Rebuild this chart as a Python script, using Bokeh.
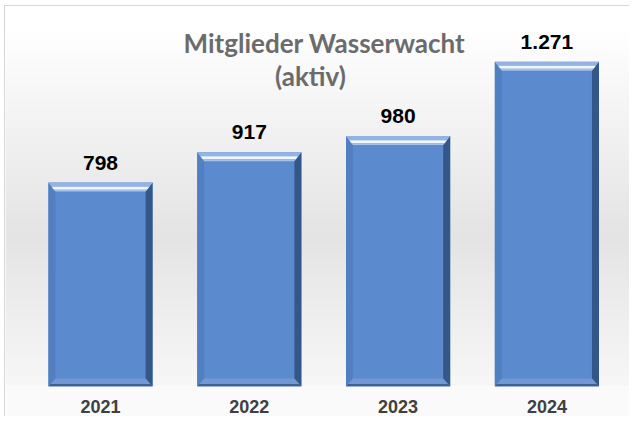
import numpy as np
from bokeh.plotting import figure
from bokeh.models import Range1d, FixedTicker, Label, ColumnDataSource
from bokeh.core.properties import value
from bokeh.embed import file_html
from bokeh.resources import INLINE

# ---- data ----
years = ["2021", "2022", "2023", "2024"]
members = [798, 917, 980, 1271]
member_labels = ["798", "917", "980", "1.271"]
title_line1 = "Mitglieder Wasserwacht"
title_line2 = "(aktiv)"

# ---- layout constants (pixels) ----
W, H = 625, 411
BOTTOM = 31
OFF_X, OFF_Y = 5, 6          # canvas origin inside the picture (margin + border)
frame_h = H - BOTTOM
px_per_cat = 148.8
px_per_unit = 0.2555

x_start = -(100 - OFF_X) / px_per_cat
x_end = x_start + W / px_per_cat
y_start = 0.0
y_end = frame_h / px_per_unit

p = figure(width=W, height=H, output_backend="svg", toolbar_location=None,
           x_range=Range1d(x_start, x_end), y_range=Range1d(y_start, y_end),
           y_axis_type=None, min_border_left=0, min_border_right=0,
           min_border_top=0, min_border_bottom=BOTTOM)
p.grid.visible = False
p.outline_line_color = None
p.border_fill_color = "#fafafa"
p.background_fill_color = "#ffffff"
p.styles = {"margin-left": "4px", "margin-top": "5px",
            "border-left": "1px solid #d6d6d6", "border-top": "1px solid #d6d6d6"}

# ---- background gradient (vertical) ----
rows = 200
t = np.linspace(0, 1, rows)  # 0 = bottom of frame, 1 = top
pic_y = OFF_Y + (1 - t) * frame_h
def shade(y):
    if y < 30:
        return 255.0
    if y < 235:
        return 255 - (255 - 228) * (y - 30) / 205
    return 228 + (251 - 228) * (y - 235) / (417 - 235)
g = np.array([shade(y) for y in pic_y]).astype(np.uint32)
img = np.zeros((rows, 1), dtype=np.uint32)
img[:, 0] = (255 << 24) | (g << 16) | (g << 8) | g
p.image_rgba(image=[img], x=x_start, y=y_start, dw=x_end - x_start, dh=y_end - y_start)

# ---- bars with bevel ----
xs = list(range(len(years)))
bw = 0.70
dx = 7.0 / px_per_cat
dyt = 9.0 / px_per_unit
dyb = 8.0 / px_per_unit

x0 = [x - bw / 2 for x in xs]
x1 = [x + bw / 2 for x in xs]

p.quad(left=x0, right=x1, bottom=0, top=members, fill_color="#5b8bce", line_color=None)

def patches_for(fn, color):
    pxs, pys = [], []
    for a, b, v in zip(x0, x1, members):
        px_, py_ = fn(a, b, v)
        pxs.append(px_); pys.append(py_)
    p.patches(xs=pxs, ys=pys, fill_color=color, line_color=None)

# right (dark)
patches_for(lambda a, b, v: ([b, b, b - dx, b - dx], [v, 0, dyb, v - dyt]), "#34578a")
# left
patches_for(lambda a, b, v: ([a, a + dx, a + dx, a], [v, v - dyt, dyb, 0]), "#5080c2")
# bottom
patches_for(lambda a, b, v: ([a, b, b - dx, a + dx], [0, 0, dyb, dyb]), "#7198d2")
patches_for(lambda a, b, v: ([a, b, b - dx * 0.3, a + dx * 0.3], [0, 0, dyb * 0.3, dyb * 0.3]), "#3f6094")
# top bevel bands
def top_band(f0, f1):
    def fn(a, b, v):
        return ([a + dx * f0, b - dx * f0, b - dx * f1, a + dx * f1],
                [v - dyt * f0, v - dyt * f0, v - dyt * f1, v - dyt * f1])
    return fn
patches_for(top_band(0.0, 0.45), "#93b3e3")
patches_for(top_band(0.45, 0.78), "#f1f6fd")
patches_for(top_band(0.78, 1.0), "#a6c1ea")

# ---- value labels ----
src = ColumnDataSource(dict(x=xs, y=members, t=member_labels))
p.text(x="x", y="y", text="t", source=src, text_align="center", text_baseline="alphabetic",
       y_offset=-20, text_font=value("Liberation Sans"), text_font_style="bold",
       text_font_size="21px", text_color="#000000")

# ---- title ----
def data_x(px):
    return x_start + (px - OFF_X) / px_per_cat
def data_y(py):
    return y_start + (OFF_Y + frame_h - py) / px_per_unit

for txt, cx, cy in [(title_line1, 324, 42), (title_line2, 310, 75)]:
    p.add_layout(Label(x=data_x(cx), y=data_y(cy), text=txt, text_align="center",
                       text_baseline="middle", text_font="Lato", text_font_style="bold",
                       text_font_size="26px", text_color="#6b6b6b"))

# ---- x axis ----
ax = p.xaxis[0]
ax.ticker = FixedTicker(ticks=xs)
ax.major_label_overrides = {x: y for x, y in zip(xs, years)}
ax.axis_line_color = None
ax.major_tick_line_color = None
ax.minor_tick_line_color = None
ax.major_label_standoff = 7
ax.major_label_text_font = "Liberation Sans"
ax.major_label_text_font_style = "bold"
ax.major_label_text_font_size = "18px"
ax.major_label_text_color = "#404040"

open("out.html", "w").write(file_html(p, INLINE))
